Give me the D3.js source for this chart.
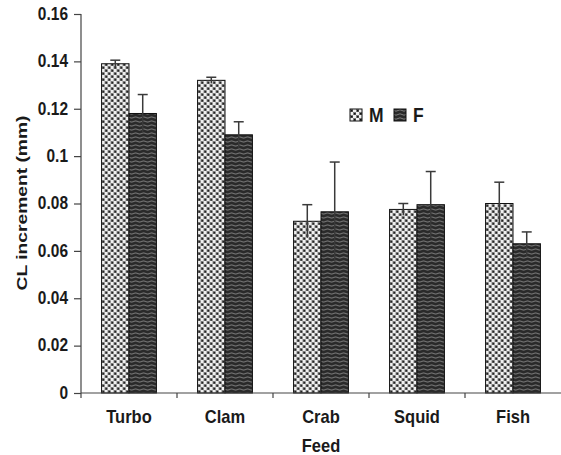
<!DOCTYPE html>
<html>
<head>
<meta charset="utf-8">
<script src="https://cdn.jsdelivr.net/npm/d3@7"></script>
<style>
  html, body { margin: 0; padding: 0; background: #fff; }
  svg { display: block; }
  text { font-family: "Liberation Sans", Arial, sans-serif; font-weight: bold; fill: #1a1a1a; }
</style>
</head>
<body>
<svg id="chart" width="561" height="455"></svg>
<script>
// ---- data ----
const categories = ["Turbo", "Clam", "Crab", "Squid", "Fish"];
const seriesNames = ["M", "F"];
const maleValues = [0.139, 0.132, 0.0725, 0.0775, 0.080];
const femaleValues = [0.118, 0.109, 0.0765, 0.0795, 0.063];
const maleErrors = [0.0015, 0.0013, 0.007, 0.0025, 0.009];
const femaleErrors = [0.008, 0.0055, 0.021, 0.014, 0.005];
const yTicks = [0, 0.02, 0.04, 0.06, 0.08, 0.1, 0.12, 0.14, 0.16];
const yTickLabels = ["0", "0.02", "0.04", "0.06", "0.08", "0.1", "0.12", "0.14", "0.16"];
const xTitle = "Feed";
const yTitle = "CL increment (mm)";

const svg = d3.select("#chart");
const VS = 1.13; // vertical text stretch seen in the reference

// ---- patterns ----
const defs = svg.append("defs");
const pm = defs.append("pattern").attr("id", "patM").attr("patternUnits", "userSpaceOnUse")
  .attr("width", 6).attr("height", 6);
pm.append("rect").attr("width", 6).attr("height", 6).attr("fill", "#f0f0f0");
pm.append("rect").attr("x", 0).attr("y", 0).attr("width", 3).attr("height", 3).attr("fill", "#7a7a7a");
pm.append("rect").attr("x", 3).attr("y", 3).attr("width", 3).attr("height", 3).attr("fill", "#7a7a7a");
pm.append("rect").attr("x", 1).attr("y", 1).attr("width", 1.6).attr("height", 1.6).attr("fill", "#111");
pm.append("rect").attr("x", 4).attr("y", 4).attr("width", 1.6).attr("height", 1.6).attr("fill", "#111");

const pf = defs.append("pattern").attr("id", "patF").attr("patternUnits", "userSpaceOnUse")
  .attr("width", 8).attr("height", 4);
pf.append("rect").attr("width", 8).attr("height", 4).attr("fill", "#2a2a2a");
pf.append("path").attr("d", "M0,1.5 L2,0.8 L4,1.5 L6,2.2 L8,1.5")
  .attr("stroke", "#8e8e8e").attr("stroke-width", 0.85).attr("fill", "none");

// ---- scales ----
const y = d3.scaleLinear().domain([0, 0.16]).range([393, 14]);
const x = d3.scaleBand().domain(categories).range([81, 561]).paddingInner(0).paddingOuter(0);
const groupW = x.bandwidth() * 2 / 3.5;
const x1 = d3.scaleBand().domain(seriesNames).range([0, groupW]);

const rows = categories.map((c, i) => ({
  cat: c,
  vals: [
    { s: "M", v: maleValues[i], e: maleErrors[i] },
    { s: "F", v: femaleValues[i], e: femaleErrors[i] }
  ]
}));

// ---- bars ----
const g = svg.append("g");
const groups = g.selectAll("g.grp").data(rows).join("g")
  .attr("transform", d => `translate(${x(d.cat) + (x.bandwidth() - groupW) / 2},0)`);

groups.selectAll("rect").data(d => d.vals).join("rect")
  .attr("x", d => x1(d.s))
  .attr("y", d => y(d.v))
  .attr("width", x1.bandwidth())
  .attr("height", d => y(0) - y(d.v))
  .attr("fill", d => d.s === "M" ? "url(#patM)" : "url(#patF)")
  .attr("stroke", "#111").attr("stroke-width", 1);

// error bars
groups.selectAll("g.err").data(d => d.vals).join("g").attr("class", "err")
  .each(function(d) {
    const cx = x1(d.s) + x1.bandwidth() / 2;
    const gg = d3.select(this);
    gg.append("line").attr("x1", cx).attr("x2", cx)
      .attr("y1", y(d.v + d.e)).attr("y2", y(d.v - d.e))
      .attr("stroke", "#3a3a3a").attr("stroke-width", 1.5);
    gg.append("line").attr("x1", cx - 5).attr("x2", cx + 5)
      .attr("y1", y(d.v + d.e)).attr("y2", y(d.v + d.e))
      .attr("stroke", "#3a3a3a").attr("stroke-width", 1.5);
  });

// ---- axes ----
const yAxis = d3.axisLeft(y).tickValues(yTicks).tickFormat((d, i) => yTickLabels[i]).tickSize(7).tickPadding(6);
const ya = svg.append("g").attr("transform", "translate(81,0)").call(yAxis);
ya.select(".domain").attr("stroke", "#444").attr("stroke-width", 1.2).attr("d", "M0,14V393");
ya.selectAll(".tick line").attr("stroke", "#444").attr("stroke-width", 1.2);
ya.selectAll(".tick text").attr("font-size", 15.5).attr("fill", "#1a1a1a")
  .attr("font-family", '"Liberation Sans", Arial, sans-serif').attr("font-weight", "bold")
  .attr("dy", "0.3em").attr("transform", `scale(1,${VS})`);

const xa = svg.append("g").attr("transform", "translate(0,393)");
xa.append("line").attr("x1", 81).attr("x2", 561).attr("y1", 0).attr("y2", 0)
  .attr("stroke", "#444").attr("stroke-width", 1.2);
const boundaries = categories.map(c => x(c));
xa.selectAll("line.tk").data(boundaries).join("line").attr("class", "tk")
  .attr("x1", d => d).attr("x2", d => d).attr("y1", 0).attr("y2", 5)
  .attr("stroke", "#444").attr("stroke-width", 1.2);
xa.selectAll("text.lbl").data(categories).join("text").attr("class", "lbl")
  .attr("transform", d => `translate(${x(d) + x.bandwidth() / 2},30) scale(1,${VS})`)
  .attr("text-anchor", "middle").attr("font-size", 16.5)
  .text(d => d);

// titles
svg.append("text").attr("transform", `translate(321,452) scale(1,${VS})`).attr("text-anchor", "middle")
  .attr("font-size", 16.5).text(xTitle);
svg.append("text").attr("transform", "translate(27,203) rotate(-90)")
  .attr("text-anchor", "middle").attr("font-size", 15.5)
  .attr("textLength", 175).attr("lengthAdjust", "spacingAndGlyphs")
  .text(yTitle);

// ---- legend ----
const legend = svg.append("g").attr("transform", "translate(350,109)");
const legendItems = [{ s: "M", x: 0 }, { s: "F", x: 44 }];
legend.selectAll("rect").data(legendItems).join("rect")
  .attr("x", d => d.x).attr("y", 0).attr("width", 12).attr("height", 12)
  .attr("fill", d => d.s === "M" ? "url(#patM)" : "url(#patF)")
  .attr("stroke", "#111").attr("stroke-width", 1);
legend.selectAll("text").data(legendItems).join("text")
  .attr("transform", d => `translate(${d.x + 19},13) scale(1,${VS})`)
  .attr("font-size", 17.5).text(d => d.s);
</script>
</body>
</html>
